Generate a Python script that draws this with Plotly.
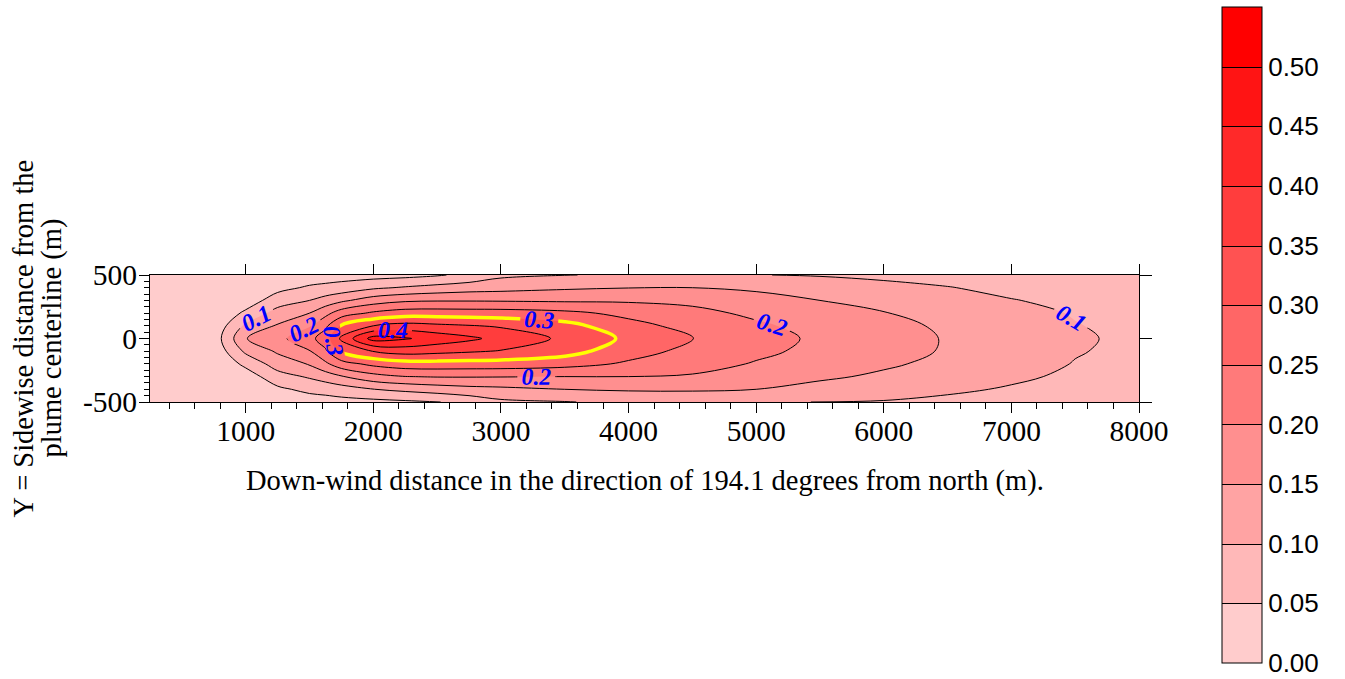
import plotly.graph_objects as go

# ---- data ----
x_m = [250, 500, 750, 1000, 1250, 1500, 1625, 1750, 2000, 2250, 2500, 2750,
       3000, 3500, 4000, 4500, 5000, 5500, 6000, 6500, 7000, 7500, 8000]
y_m = [-500, -400, -300, -200, -100, 0, 100, 200, 300, 400, 500]

z_m500 = [0, 0, 0.0, 0.0, 0.012, 0.024, 0.029, 0.033, 0.036, 0.042, 0.048, 0.066,
          0.09, 0.098, 0.109, 0.108, 0.106, 0.099, 0.097, 0.088, 0.078, 0.069, 0.063]
z_m400 = [0, 0, 0.0, 0.006, 0.04, 0.063, 0.068, 0.077, 0.099, 0.112, 0.124, 0.134,
          0.139, 0.15, 0.156, 0.157, 0.15, 0.134, 0.122, 0.109, 0.095, 0.081, 0.073]
z_m300 = [0, 0, 0.0, 0.024, 0.08, 0.106, 0.124, 0.146, 0.182, 0.199, 0.203, 0.203,
          0.202, 0.2, 0.2, 0.195, 0.175, 0.158, 0.142, 0.127, 0.109, 0.091, 0.08]
z_m200 = [0, 0, 0.004, 0.062, 0.123, 0.154, 0.19, 0.23, 0.263, 0.28, 0.282, 0.28,
          0.279, 0.268, 0.243, 0.22, 0.196, 0.174, 0.157, 0.138, 0.12, 0.098, 0.085]
z_m100 = [0, 0, 0.012, 0.11, 0.157, 0.197, 0.243, 0.307, 0.352, 0.371, 0.364, 0.356,
          0.347, 0.321, 0.269, 0.237, 0.211, 0.187, 0.166, 0.146, 0.126, 0.103, 0.089]
z_0 = [0.0, 0.0, 0.02, 0.148, 0.185, 0.235, 0.275, 0.36, 0.47, 0.455, 0.43, 0.41,
       0.385, 0.34, 0.29, 0.252, 0.222, 0.19, 0.168, 0.147, 0.127, 0.106, 0.09]
z_p100 = [0.0, 0.0, 0.012, 0.11, 0.155, 0.195, 0.24, 0.305, 0.35, 0.369, 0.361, 0.353,
          0.344, 0.318, 0.266, 0.234, 0.208, 0.183, 0.163, 0.143, 0.123, 0.102, 0.088]
z_p200 = [0.0, 0.0, 0.004, 0.06, 0.12, 0.15, 0.185, 0.225, 0.258, 0.275, 0.276, 0.274,
          0.273, 0.262, 0.237, 0.214, 0.19, 0.168, 0.152, 0.133, 0.115, 0.097, 0.084]
z_p300 = [0.0, 0.0, 0.0, 0.022, 0.075, 0.10, 0.12, 0.14, 0.175, 0.192, 0.196, 0.196,
          0.195, 0.1925, 0.193, 0.188, 0.168, 0.15, 0.133, 0.12, 0.102, 0.089, 0.078]
z_p400 = [0.0, 0.0, 0.0, 0.005, 0.035, 0.057, 0.063, 0.07, 0.092, 0.105, 0.117, 0.127,
          0.132, 0.143, 0.149, 0.15, 0.142, 0.125, 0.113, 0.102, 0.088, 0.078, 0.07]
z_p500 = [0.0, 0.0, 0.0, 0.0, 0.01, 0.02, 0.025, 0.028, 0.03, 0.035, 0.045, 0.062,
          0.09, 0.099, 0.104, 0.102, 0.101, 0.097, 0.09, 0.082, 0.072, 0.066, 0.06]

z_grid = [z_m500, z_m400, z_m300, z_m200, z_m100, z_0,
          z_p100, z_p200, z_p300, z_p400, z_p500]

band_colors = ["#FFCCCC", "#FFB8B8", "#FFA3A3", "#FF8F8F", "#FF7A7A", "#FF6666",
               "#FF5252", "#FF3D3D", "#FF2929", "#FF1414", "#FF0000"]
cbar_ticks = [0.0, 0.05, 0.10, 0.15, 0.20, 0.25, 0.30, 0.35, 0.40, 0.45, 0.50]
x_major_ticks = [1000, 2000, 3000, 4000, 5000, 6000, 7000, 8000]
y_major_ticks = [-500, 0, 500]
y_tick_text = ["-500", "0", "500"]

x_title = "Down-wind distance in the direction of 194.1 degrees from north (m)."
y_title_lines = ["Y = Sidewise distance from the", "plume centerline (m)"]

# ---- styling ----
n = len(band_colors)
colorscale = []
for k, c in enumerate(band_colors):
    colorscale.append([k / n, c])
    colorscale.append([(k + 1) / n, c])

serif = "Liberation Serif"
sans = "Liberation Sans"
labelfont = dict(family=serif, size=24, color="#0000FF", weight="bold", style="italic")
SMOOTH = 1.0

# plot area in pixels (figure 1345 x 679)
L, R, T, B = 150, 1139, 275, 402
W, H = 1345, 679

fig = go.Figure()

# filled bands
fig.add_trace(go.Contour(
    x=x_m, y=y_m, z=z_grid, zmin=0, zmax=0.55, colorscale=colorscale,
    autocontour=False,
    contours=dict(start=0.05, end=0.5, size=0.05, coloring="fill", showlines=False),
    line=dict(width=0, smoothing=SMOOTH), showscale=False, hoverinfo="skip"))

# invisible copy carrying the colour bar
fig.add_trace(go.Contour(
    x=x_m, y=y_m, z=z_grid, zmin=0, zmax=0.55, colorscale=colorscale,
    autocontour=False, opacity=0,
    contours=dict(start=0.05, end=0.5, size=0.05, coloring="fill", showlines=True),
    line=dict(width=1, color="black", smoothing=SMOOTH), hoverinfo="skip",
    showscale=True,
    colorbar=dict(
        xref="paper", yref="paper", x=(1222 - L) / (R - L), xanchor="left",
        y=(B - 335) / (B - T), yanchor="middle", len=656, lenmode="pixels",
        thickness=40, thicknessmode="pixels", xpad=0, ypad=0,
        outlinewidth=1, outlinecolor="black", ticks="",
        tickmode="array", tickvals=cbar_ticks, ticklabeloverflow="allow",
        ticktext=[f"{v:.2f}" for v in cbar_ticks],
        tickfont=dict(family=sans, size=26, color="black"))))

# unlabeled lines 0.05, 0.15, ..., 0.45
fig.add_trace(go.Contour(
    x=x_m, y=y_m, z=z_grid, autocontour=False, showscale=False,
    contours=dict(start=0.05, end=0.45, size=0.1, coloring="none"),
    line=dict(width=1, color="black", smoothing=SMOOTH), hoverinfo="skip"))


def labeled_level(level, step, count, color, width):
    # one visible level; the extra (negative, empty) levels only make plotly
    # place labels more densely along the line
    return go.Contour(
        x=x_m, y=y_m, z=z_grid, autocontour=False, showscale=False,
        contours=dict(start=level - (count - 1) * step, end=level, size=step,
                      coloring="none", showlabels=True, labelfont=labelfont,
                      labelformat=".1f"),
        line=dict(width=width, color=color, smoothing=SMOOTH), hoverinfo="skip")


fig.add_trace(labeled_level(0.1, 0.15, 120, "black", 1))
fig.add_trace(labeled_level(0.2, 0.25, 150, "black", 1))
fig.add_trace(labeled_level(0.4, 0.45, 1, "black", 1))
fig.add_trace(labeled_level(0.3, 0.35, 150, "#FFFF00", 3.5))

# empty trace to activate the mirrored axes
fig.add_trace(go.Scatter(x=[], y=[], xaxis="x2", yaxis="y2", showlegend=False,
                         hoverinfo="skip"))

axis_common = dict(showgrid=False, zeroline=False, showline=True, linecolor="black",
                   linewidth=1, ticks="outside", tickcolor="black", tickwidth=1)

annotations = [
    dict(text=x_title, xref="paper", yref="paper", x=0.5, y=(B - 481) / (B - T),
         xanchor="center", yanchor="middle", showarrow=False,
         font=dict(family=serif, size=28.5, color="black")),
]
for i, line_text in enumerate(y_title_lines):
    annotations.append(dict(
        text=line_text, xref="paper", yref="paper", x=(23 + 28 * i - L) / (R - L),
        y=0.5, xanchor="center", yanchor="middle", showarrow=False, textangle=-90,
        font=dict(family=serif, size=28.5, color="black")))

fig.update_layout(
    width=W, height=H, autosize=False,
    margin=dict(l=L, r=W - R, t=T, b=H - B, pad=0, autoexpand=False),
    paper_bgcolor="white", plot_bgcolor="white", showlegend=False,
    xaxis=dict(range=[250, 8000], tickmode="array", tickvals=x_major_ticks,
               ticklen=10, ticklabelstandoff=-7,
               tickfont=dict(family=serif, size=29.5, color="black"),
               minor=dict(ticks="outside", dtick=200, tick0=0, ticklen=6,
                          tickcolor="black", tickwidth=1),
               **axis_common),
    yaxis=dict(range=[-500, 500], tickmode="array", tickvals=y_major_ticks,
               ticktext=y_tick_text, ticklen=10, ticklabelstandoff=-4,
               tickfont=dict(family=serif, size=29.5, color="black"),
               minor=dict(ticks="outside", dtick=50, tick0=0, ticklen=5,
                          tickcolor="black", tickwidth=1),
               **axis_common),
    xaxis2=dict(range=[250, 8000], overlaying="x", side="top", anchor="y",
                tickmode="array", tickvals=x_major_ticks, ticklen=10,
                showticklabels=False, **axis_common),
    yaxis2=dict(range=[-500, 500], overlaying="y", side="right", anchor="x",
                tickmode="array", tickvals=y_major_ticks, ticklen=12,
                showticklabels=False, **axis_common),
    annotations=annotations,
)

fig.write_html("out.html", config={"displayModeBar": False},
               post_script="document.body.style.margin='0px';")
